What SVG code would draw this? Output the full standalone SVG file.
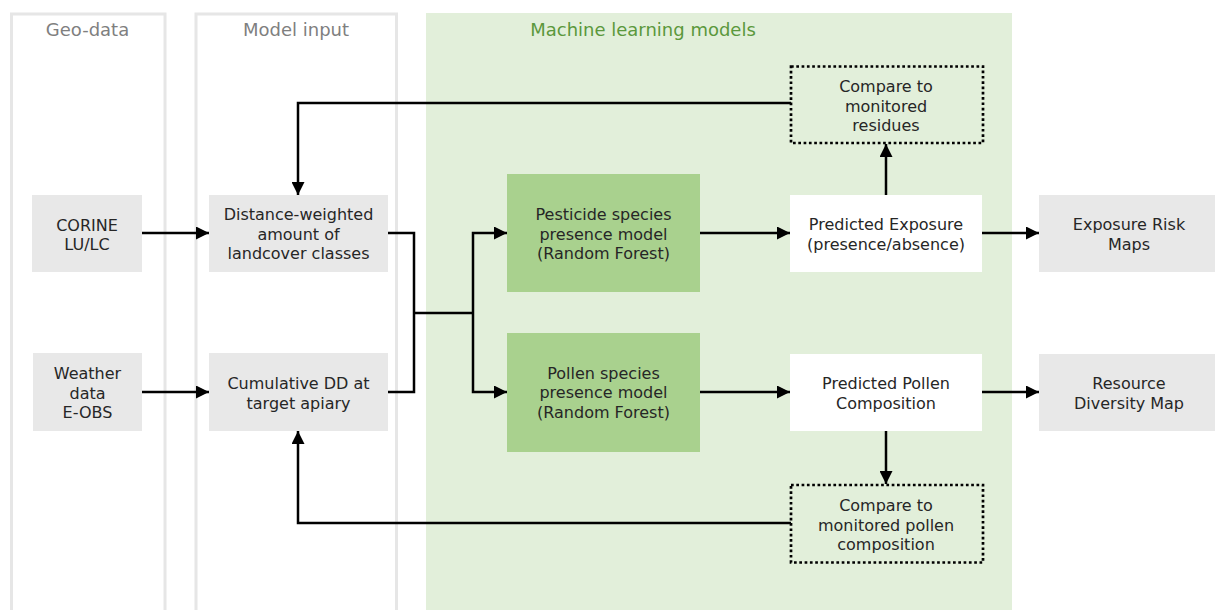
<svg xmlns="http://www.w3.org/2000/svg" width="1215" height="610" viewBox="0 0 1215 610">
<style>
  text { font-family: "DejaVu Sans", Verdana, sans-serif; font-size: 16px; fill: #262626; text-anchor: middle; }
  .title { font-size: 18px; fill: #7f7f7f; }
  .mltitle { font-size: 18px; fill: #5b983c; }
  .col { fill: none; stroke: #e6e6e6; stroke-width: 3; }
  .grey { fill: #e8e8e8; }
  .green { fill: #a9d18e; }
  .white { fill: #ffffff; }
  .dotted { fill: none; stroke: #000; stroke-width: 2.7; stroke-dasharray: 2.7 2.6; }
  .conn path { fill: none; stroke: #000; stroke-width: 2.5; }
  .arrow { marker-end: url(#ah); }
</style>
<defs>
  <marker id="ah" viewBox="0 0 10 10" refX="10" refY="5" markerWidth="5.2" markerHeight="5.2" orient="auto" markerUnits="strokeWidth">
    <path d="M0,0 L10,5 L0,10 Z" fill="#000"/>
  </marker>
</defs>

<g id="columns">
  <rect class="col" x="11.5" y="14" width="153.5" height="620"/>
  <rect class="col" x="196" y="14" width="200.5" height="620"/>
  <rect x="426" y="13" width="586" height="620" fill="#e2efda"/>
  <text class="title" x="87.5" y="36">Geo-data</text>
  <text class="title" x="296" y="36">Model input</text>
  <text class="mltitle" x="643" y="36">Machine learning models</text>
</g>

<g id="corine">
  <rect class="grey" x="32" y="195" width="110" height="77"/>
  <text x="87" y="230.5">CORINE</text>
  <text x="87" y="250">LU/LC</text>
</g>
<g id="weather">
  <rect class="grey" x="33" y="353" width="109" height="78"/>
  <text x="87.5" y="379">Weather</text>
  <text x="87.5" y="398.5">data</text>
  <text x="87.5" y="418">E-OBS</text>
</g>
<g id="distance">
  <rect class="grey" x="209" y="195" width="179" height="77"/>
  <text x="298.5" y="220">Distance-weighted</text>
  <text x="298.5" y="239.5">amount of</text>
  <text x="298.5" y="259">landcover classes</text>
</g>
<g id="cumulative">
  <rect class="grey" x="209" y="353" width="179" height="78"/>
  <text x="298.5" y="389">Cumulative DD at</text>
  <text x="298.5" y="408.5">target apiary</text>
</g>
<g id="pesticide">
  <rect class="green" x="507" y="174" width="193" height="118"/>
  <text x="603.5" y="220">Pesticide species</text>
  <text x="603.5" y="239.5">presence model</text>
  <text x="603.5" y="259">(Random Forest)</text>
</g>
<g id="pollen">
  <rect class="green" x="507" y="333" width="193" height="119"/>
  <text x="603.5" y="378.5">Pollen species</text>
  <text x="603.5" y="398">presence model</text>
  <text x="603.5" y="417.5">(Random Forest)</text>
</g>
<g id="pred-exposure">
  <rect class="white" x="790" y="195" width="192" height="77"/>
  <text x="886" y="230">Predicted Exposure</text>
  <text x="886" y="249.5">(presence/absence)</text>
</g>
<g id="pred-pollen">
  <rect class="white" x="790" y="354" width="192" height="77"/>
  <text x="886" y="389">Predicted Pollen</text>
  <text x="886" y="408.5">Composition</text>
</g>
<g id="compare-residues">
  <rect class="dotted" x="791" y="66.5" width="192" height="76.5"/>
  <text x="886" y="92">Compare to</text>
  <text x="886" y="111.5">monitored</text>
  <text x="886" y="131">residues</text>
</g>
<g id="compare-pollen">
  <rect class="dotted" x="791" y="485" width="192" height="77.5"/>
  <text x="886" y="511">Compare to</text>
  <text x="886" y="530.5">monitored pollen</text>
  <text x="886" y="550">composition</text>
</g>
<g id="exposure-maps">
  <rect class="grey" x="1039" y="195" width="180" height="77"/>
  <text x="1129" y="230">Exposure Risk</text>
  <text x="1129" y="249.5">Maps</text>
</g>
<g id="diversity-map">
  <rect class="grey" x="1039" y="354" width="180" height="77"/>
  <text x="1129" y="389">Resource</text>
  <text x="1129" y="408.5">Diversity Map</text>
</g>

<g id="connectors" class="conn">
  <path class="arrow" d="M142,233 H209"/>
  <path class="arrow" d="M142,392 H209"/>
  <path d="M388,233 H414 V392 H388"/>
  <path d="M414,313 H473"/>
  <path class="arrow" d="M473,313 V233 H507"/>
  <path class="arrow" d="M473,313 V392 H507"/>
  <path class="arrow" d="M700,233 H790"/>
  <path class="arrow" d="M700,392 H790"/>
  <path class="arrow" d="M982,233 H1039"/>
  <path class="arrow" d="M982,392 H1039"/>
  <path class="arrow" d="M886,195 V144"/>
  <path class="arrow" d="M886,431 V484"/>
  <path class="arrow" d="M791,103 H298 V195"/>
  <path class="arrow" d="M791,523 H298 V431"/>
</g>
</svg>
